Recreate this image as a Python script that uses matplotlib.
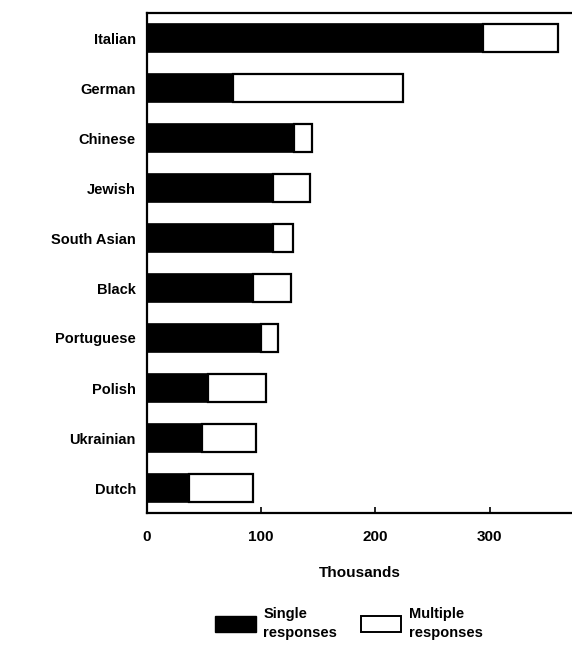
import matplotlib
matplotlib.use("Agg")
from matplotlib import pyplot as plt
from matplotlib.patches import Patch

groups = ["Italian", "German", "Chinese", "Jewish", "South Asian",
          "Black", "Portuguese", "Polish", "Ukrainian", "Dutch"]
single = [294, 75, 129, 110, 110, 93, 100, 53, 48, 37]
total = [360, 224, 144, 143, 128, 126, 115, 104, 95, 93]
multiple = [t - s for t, s in zip(total, single)]

plt.rcParams["font.family"] = ["Liberation Sans", "DejaVu Sans"]
plt.rcParams["font.weight"] = "bold"

fig = plt.figure(figsize=(5.72, 6.5), dpi=100)
ax = fig.add_axes([147 / 572, 137 / 650, 1 - 147 / 572, 500 / 650])

ypos = list(range(len(groups)))
ax.barh(ypos, single, height=0.56, color="black", edgecolor="black", linewidth=1.2)
ax.barh(ypos, multiple, left=single, height=0.56, color="white",
        edgecolor="black", linewidth=1.6)

ax.set_ylim(len(groups) - 0.5, -0.5)
ax.set_xlim(0, 372)
ax.set_yticks(ypos)
ax.set_yticklabels(groups, fontsize=10.5, fontweight="bold")
ax.set_xticks([0, 100, 200, 300])
ax.set_xticklabels(["0", "100", "200", "300"], fontsize=11, fontweight="bold")
ax.tick_params(axis="y", length=0, pad=8)
ax.tick_params(axis="x", direction="in", length=4, width=1.2, pad=12)
ax.spines["right"].set_visible(False)
for s in ["left", "bottom", "top"]:
    ax.spines[s].set_linewidth(1.6)
ax.set_xlabel("Thousands", fontsize=11, fontweight="bold", labelpad=16)

handles = [Patch(facecolor="black", edgecolor="black"),
           Patch(facecolor="white", edgecolor="black", linewidth=1.4)]
leg = fig.legend(handles, ["Single\nresponses", "Multiple\nresponses"], ncol=2,
                 loc="lower center", bbox_to_anchor=(0.61, -0.005), frameon=False,
                 fontsize=10.5, handlelength=2.8, handleheight=1.3,
                 columnspacing=1.6, handletextpad=0.5)
for t in leg.get_texts():
    t.set_linespacing(1.5)

fig.savefig("out.png", dpi=100)
